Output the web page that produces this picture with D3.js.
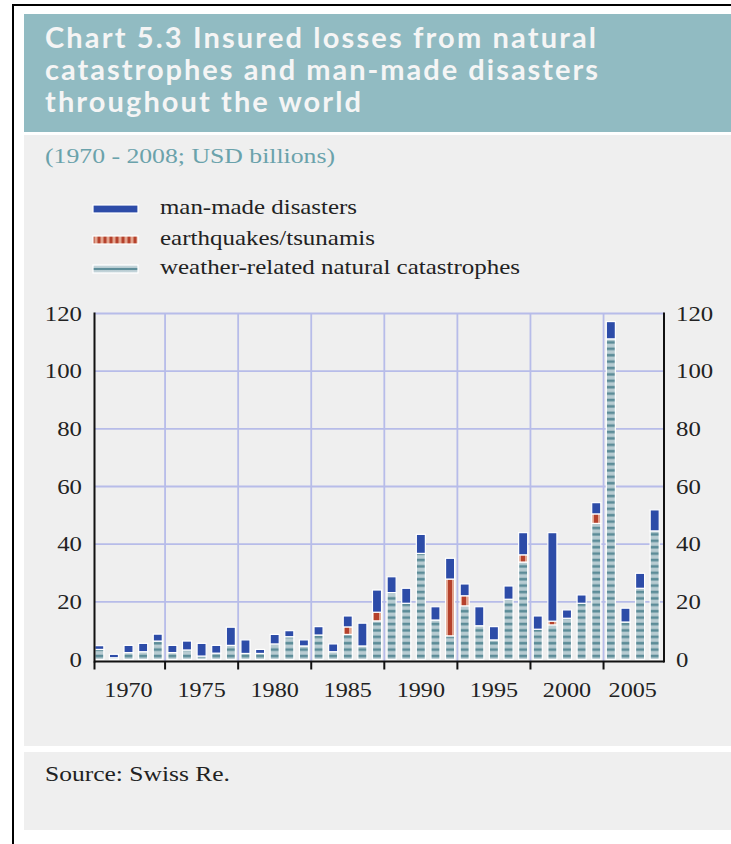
<!DOCTYPE html>
<html><head><meta charset="utf-8">
<script src="https://cdn.jsdelivr.net/npm/d3@7"></script>
<style>body{margin:0;background:#fff;} svg{display:block}</style>
</head><body><svg id="c" width="731" height="844"></svg>
<script>
const years = [1970,1971,1972,1973,1974,1975,1976,1977,1978,1979,1980,1981,1982,1983,1984,1985,1986,1987,1988,1989,1990,1991,1992,1993,1994,1995,1996,1997,1998,1999,2000,2001,2002,2003,2004,2005,2006,2007,2008];
const weather = [3.5,0.6,2.4,2.7,6.4,2.4,3.3,1.2,2.2,4.9,2.1,2.1,5.4,7.9,4.7,8.5,2.7,8.7,4.7,13.4,23.2,19.5,36.8,13.7,8.2,18.6,11.7,6.8,20.9,33.8,10.5,12.0,14.3,19.5,47.2,111.2,13.0,24.7,44.6];
const quakes = [0,0,0,0,0,0,0,0,0,0,0,0,0,0,0,0,0,2.6,0,3.0,0,0,0,0,19.7,3.5,0,0,0,2.5,0,1.3,0,0,3.3,0,0,0,0];
const manMade = [1.3,1.2,2.5,2.9,2.4,2.5,3.1,4.4,2.7,6.3,4.7,1.4,3.3,2.1,2.1,2.9,2.7,3.8,7.9,7.7,5.5,5.2,6.6,4.6,7.2,4.1,6.6,4.6,4.6,7.7,4.6,30.7,2.9,2.9,3.9,6.0,4.8,5.2,7.3];
const yTicks = [0,20,40,60,80,100,120];
const groupStarts = [1970,1975,1980,1985,1990,1995,2000,2005];
const legendLabels = ["man-made disasters","earthquakes/tsunamis","weather-related natural catastrophes"];
const titleLines = ["Chart 5.3 Insured losses from natural","catastrophes and man-made disasters","throughout the world"];
const subtitle = "(1970 - 2008; USD billions)";
const sourceText = "Source: Swiss Re.";

const svg = d3.select("#c");
const SERIF = "'Liberation Serif','Times New Roman',serif";
function stretch(sel, k) {
  sel.each(function(){ const w=this.getComputedTextLength(); d3.select(this).attr("textLength", w*k).attr("lengthAdjust","spacingAndGlyphs"); });
}
function fit(sel, w, adj) {
  sel.attr("textLength", w).attr("lengthAdjust", adj || "spacing");
}

// defs
const defs = svg.append("defs");
const pW = defs.append("pattern").attr("id","pw").attr("patternUnits","userSpaceOnUse")
  .attr("x",0).attr("y",659.5).attr("width",20).attr("height",6.4);
pW.append("rect").attr("width",20).attr("height",6.4).attr("fill","#b8ccd2");
pW.append("rect").attr("y",1.6).attr("width",20).attr("height",2.6).attr("fill","#5c8c98");
const gQ = defs.append("linearGradient").attr("id","gq").attr("x1",0).attr("x2",1).attr("y1",0).attr("y2",0);
[[0,"#e2a590"],[0.22,"#e2a590"],[0.22,"#b5412c"],[0.68,"#b5412c"],[0.68,"#e2a590"],[1,"#e2a590"]]
  .forEach(s=>gQ.append("stop").attr("offset",s[0]).attr("stop-color",s[1]));
const pQ = defs.append("pattern").attr("id","pq").attr("patternUnits","userSpaceOnUse").attr("width",6).attr("height",10);
pQ.append("rect").attr("width",6).attr("height",10).attr("fill","#e2a590");
pQ.append("rect").attr("x",1.5).attr("width",3).attr("height",10).attr("fill","#b5412c");
const gW = defs.append("linearGradient").attr("id","gwl").attr("x1",0).attr("x2",0).attr("y1",0).attr("y2",1);
[[0,"#cddbe0"],[0.35,"#b8ccd2"],[0.38,"#5f8e9a"],[0.62,"#5f8e9a"],[0.65,"#b8ccd2"],[1,"#cddbe0"]]
  .forEach(s=>gW.append("stop").attr("offset",s[0]).attr("stop-color",s[1]));

// panels
svg.append("rect").attr("x",24).attr("y",14).attr("width",707).attr("height",118).attr("fill","#91bbc2");
svg.append("rect").attr("x",24).attr("y",135).attr("width",707).attr("height",611).attr("fill","#efefef");
svg.append("rect").attr("x",24).attr("y",752).attr("width",707).attr("height",78).attr("fill","#efefef");
svg.append("line").attr("x1",13).attr("x2",13).attr("y1",4).attr("y2",844).attr("stroke","#000").attr("stroke-width",2);
svg.append("line").attr("x1",12).attr("x2",731).attr("y1",5).attr("y2",5).attr("stroke","#000").attr("stroke-width",2);

// title
svg.selectAll("text.title").data(titleLines).join("text").attr("class","title")
  .attr("x",45).attr("y",(d,i)=>48+i*32)
  .attr("font-family","Lato, 'Open Sans', sans-serif").attr("font-weight",700).attr("font-size",29)
  .attr("fill","#f5f5f5").text(d=>d)
  .each(function(d,i){ fit(d3.select(this), [551,553,316][i]); });

svg.append("text").attr("x",45).attr("y",163).attr("font-family",SERIF).attr("font-size",20)
  .attr("fill","#6aa2ab").text(subtitle).call(s=>fit(s,290,"spacingAndGlyphs"));

// legend
const legFills = ["#2d4ca8","url(#pq)","url(#gwl)"];
const legY = [205,236,265];
legendLabels.forEach((t,i)=>{
  svg.append("rect").attr("x",93).attr("y",legY[i]).attr("width",45).attr("height",8)
    .attr("fill",legFills[i]).attr("stroke","#fff").attr("stroke-width",1.2);
  svg.append("text").attr("x",160).attr("y",legY[i]+9).attr("font-family",SERIF).attr("font-size",21)
    .attr("fill","#222").text(t).call(s=>fit(s,[197,215,360][i],"spacingAndGlyphs"));
});

// scales
const x = d3.scaleBand().domain(years).range([92,662]).paddingInner(0.38).paddingOuter(0.19);
const y = d3.scaleLinear().domain([0,120]).range([659.5,313.5]);
const L = 94.5, R = 664, B = 661.5, T = y(120);
const step = x.step(), bw = x.bandwidth();
const gap = step*0.38/2;

// gridlines
const g = svg.append("g");
g.selectAll("line.h").data(yTicks.filter(v=>v>0)).join("line")
  .attr("x1",L).attr("x2",R).attr("y1",d=>y(d)).attr("y2",d=>y(d))
  .attr("stroke","#b7bce9").attr("stroke-width",1.8);
g.selectAll("line.v").data(groupStarts.slice(1)).join("line")
  .attr("x1",d=>x(d)-gap).attr("x2",d=>x(d)-gap).attr("y1",T).attr("y2",B)
  .attr("stroke","#b7bce9").attr("stroke-width",1.8);

// bars
const rows = years.map((yr,i)=>({yr, w:weather[i], q:quakes[i], m:manMade[i]}));
const bars = svg.append("g");
rows.forEach(r=>{
  const segs = [[0,r.w,"url(#pw)"],[r.w,r.w+r.q,"url(#gq)"],[r.w+r.q,r.w+r.q+r.m,"#2d4ca8"]];
  segs.forEach(s=>{
    if (s[1]-s[0] <= 0) return;
    bars.append("rect").attr("x",x(r.yr)).attr("width",bw)
      .attr("y",y(s[1])).attr("height",y(s[0])-y(s[1]))
      .attr("fill",s[2]).attr("stroke","#fff").attr("stroke-width",1.2);
  });
});

// axes
const ax = svg.append("g").attr("stroke","#111").attr("stroke-width",2).attr("fill","none");
ax.append("line").attr("x1",L).attr("x2",L).attr("y1",T-1).attr("y2",B+1);
ax.append("line").attr("x1",R).attr("x2",R).attr("y1",T-1).attr("y2",B+1);
ax.append("line").attr("x1",L).attr("x2",R).attr("y1",B).attr("y2",B);
const tickXs = [L].concat(groupStarts.slice(1).map(d=>x(d)-gap));
ax.selectAll("line.t").data(tickXs).join("line").attr("x1",d=>d).attr("x2",d=>d).attr("y1",B).attr("y2",B+8);

// y labels
svg.selectAll("text.yl").data(yTicks).join("text").attr("class","yl")
  .attr("x",82).attr("y",d=>y(d)+7).attr("text-anchor","end")
  .attr("font-family",SERIF).attr("font-size",21).attr("fill","#222").text(d=>d).call(s=>stretch(s,1.18));
svg.selectAll("text.yr").data(yTicks).join("text").attr("class","yr")
  .attr("x",676).attr("y",d=>y(d)+7).attr("text-anchor","start")
  .attr("font-family",SERIF).attr("font-size",21).attr("fill","#222").text(d=>d).call(s=>stretch(s,1.18));

// x labels
svg.selectAll("text.xl").data(groupStarts).join("text").attr("class","xl")
  .attr("x",d=>{ const last = Math.min(d+4, years[years.length-1]); return (x(d)+x(last)+bw)/2; })
  .attr("y",697).attr("text-anchor","middle")
  .attr("font-family",SERIF).attr("font-size",21).attr("fill","#222").text(d=>d).call(s=>stretch(s,1.15));

svg.append("text").attr("x",45).attr("y",781).attr("font-family",SERIF).attr("font-size",21)
  .attr("fill","#222").text(sourceText).call(s=>fit(s,185,"spacingAndGlyphs"));
</script></body></html>
